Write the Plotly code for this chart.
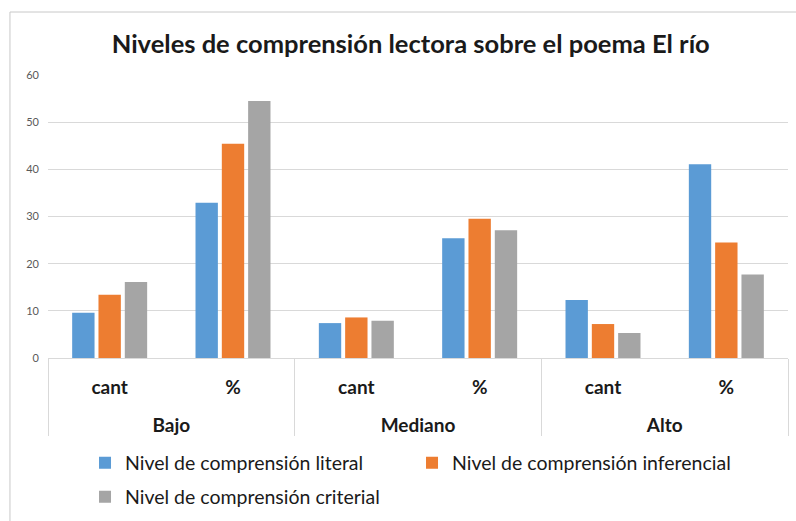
import plotly.graph_objects as go

niveles = ["Bajo", "Bajo", "Mediano", "Mediano", "Alto", "Alto"]
medidas = ["cant", "%", "cant", "%", "cant", "%"]

literal = [9.6, 32.9, 7.4, 25.4, 12.3, 41.1]
inferencial = [13.4, 45.4, 8.6, 29.5, 7.2, 24.5]
criterial = [16.1, 54.5, 7.9, 27.1, 5.3, 17.7]

series = [
    ("Nivel de comprensión literal", literal, "#5B9BD5", "legend"),
    ("Nivel de comprensión inferencial", inferencial, "#ED7D31", "legend"),
    ("Nivel de comprensión criterial", criterial, "#A5A5A5", "legend2"),
]

FONT = "Lato"
TXT = "#1a1a1a"

# an empty first line drops the group labels a row lower, as in Excel
outer = ["<br>" + n for n in niveles]

fig = go.Figure()
for name, vals, color, leg in series:
    fig.add_trace(go.Bar(
        x=[outer, medidas], y=vals, name=name, legend=leg,
        marker=dict(color=color, line=dict(width=0)),
    ))

legend_style = dict(orientation="h", xanchor="left", yanchor="middle",
                    xref="container", yref="container",
                    entrywidth=282, bgcolor="rgba(0,0,0,0)",
                    font=dict(family=FONT, size=19.5, color=TXT))

fig.update_layout(
    width=796, height=521,
    barmode="group", bargap=0.36, bargroupgap=0.15,
    title=dict(text="<b>Niveles de comprensión lectora sobre el poema El río</b>",
               x=0.516, xanchor="center", y=0.915, yanchor="middle",
               font=dict(family=FONT, size=25.5, color=TXT)),
    font=dict(family=FONT, color=TXT),
    margin=dict(l=48, r=8, t=75, b=163),
    paper_bgcolor="white", plot_bgcolor="white",
    xaxis=dict(
        automargin=False,
        showline=True, linecolor="#D9D9D9", linewidth=1,
        dividercolor="#D9D9D9", dividerwidth=1,
        ticklabelstandoff=12,
        tickfont=dict(family=FONT, size=19, color=TXT, weight="bold"),
    ),
    yaxis=dict(
        automargin=False,
        range=[0, 60], dtick=10, showgrid=True, gridcolor="#D9D9D9",
        zeroline=False, showline=False, ticklabelstandoff=8,
        tickfont=dict(family=FONT, size=11, color="#595959"),
    ),
    legend=dict(x=0.1068, y=0.1113, **legend_style),
    legend2=dict(x=0.1068, y=0.0461, **legend_style),
    shapes=[dict(type="rect", xref="paper", yref="paper",
                 x0=-0.0514, x1=1.2, y0=-1.0, y1=1.2226,
                 line=dict(color="#C8C8C8", width=1), layer="below")],
)

# the page's default 8px body margin would shift the whole figure
fig.write_html("out.html", config={"displayModeBar": False},
               post_script="document.body.style.margin = '0';")
